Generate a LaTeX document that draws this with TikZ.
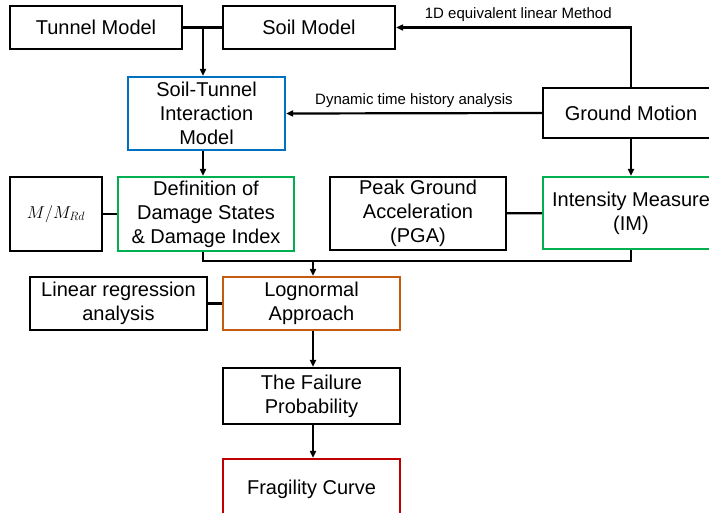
\documentclass[tikz,border=0pt]{standalone}
\usepackage{fontspec}
\setmainfont{Liberation Sans}
\usepackage{tikz}
\usetikzlibrary{shapes,arrows.meta,positioning,calc}
\definecolor{boxblue}{RGB}{0,112,192}
\definecolor{boxgreen}{RGB}{0,176,80}
\definecolor{boxorange}{RGB}{197,90,17}
\definecolor{boxred}{RGB}{192,0,0}

\begin{document}
\begin{tikzpicture}[x=1pt,y=-1pt,
    line width=2.2pt,
    >={Triangle[length=7pt,width=6pt]},
    block/.style={draw,rectangle,align=center,inner sep=0pt,
      font=\fontsize{20}{24}\selectfont},
    lbl/.style={font=\fontsize{15}{18}\selectfont}]
    \useasboundingbox (0,0) rectangle (709,512);
    % boxes
    \node [block,minimum width=172pt,minimum height=43pt] (tunnel) at (96,27.5) {Tunnel Model};
    \node [block,minimum width=172pt,minimum height=43pt] (soil) at (309,27.5) {Soil Model};
    \node [block,draw=boxblue,minimum width=157pt,minimum height=73pt] (sti) at (206.5,113.5) {Soil-Tunnel\\Interaction\\Model};
    \node [block,minimum width=176pt,minimum height=50pt] (ground) at (631,113) {Ground Motion};
    \node [block,minimum width=92pt,minimum height=74pt,font=\fontsize{17}{20}\selectfont] (mm) at (56,214) {$M/M_{Rd}$};
    \node [block,draw=boxgreen,minimum width=176pt,minimum height=74pt] (def) at (206,214) {Definition of\\Damage States\\\& Damage Index};
    \node [block,minimum width=176pt,minimum height=73pt] (pga) at (418,213.5) {Peak Ground\\Acceleration\\(PGA)};
    \node [block,draw=boxgreen,minimum width=176pt,minimum height=72pt] (im) at (631,213) {Intensity Measure\\(IM)};
    \node [block,minimum width=177pt,minimum height=53pt] (linreg) at (118.5,303.5) {Linear regression\\analysis};
    \node [block,draw=boxorange,minimum width=177pt,minimum height=53pt] (logn) at (311.5,303.5) {Lognormal\\Approach};
    \node [block,minimum width=177pt,minimum height=56pt] (fail) at (311.5,396) {The Failure\\Probability};
    \node [block,draw=boxred,minimum width=177pt,minimum height=60pt] (frag) at (311.5,489) {Fragility Curve};

    \coordinate (j1) at (203,27.5);
    \coordinate (j2) at (203,261);
    \coordinate (j3) at (313,261);

    % connectors
    \draw (tunnel.east) -- (soil.west);
    \draw [->] (j1) -- (j1 |- sti.north);
    \draw [->] (ground.north) |- (soil.east) node [lbl,pos=0.74,above=1pt] {1D equivalent linear Method};
    \draw [->] (ground.west) -- (sti.east) node [lbl,midway,above=1pt] {Dynamic time history analysis};
    \draw [->] (ground) -- (im);
    \draw [->] (j1 |- sti.south) -- (j1 |- def.north);
    \draw (mm) -- (def);
    \draw (pga) -- (im);
    \draw (j2 |- def.south) -- (j2) -| (im.south);
    \draw [->] (j3) -- (j3 |- logn.north);
    \draw (linreg) -- (logn);
    \draw [->] (j3 |- logn.south) -- (j3 |- fail.north);
    \draw [->] (j3 |- fail.south) -- (j3 |- frag.north);
\end{tikzpicture}
\end{document}
